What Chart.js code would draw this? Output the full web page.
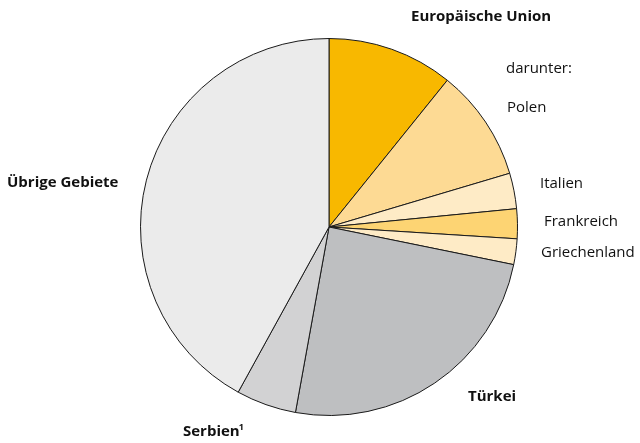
<!DOCTYPE html>
<html>
<head>
<meta charset="utf-8">
<script src="https://cdn.jsdelivr.net/npm/chart.js@4"></script>
<style>
html,body{margin:0;padding:0;background:#fff;}
#wrap{position:relative;width:640px;height:443px;}
</style>
</head>
<body>
<div id="wrap"><canvas id="c" width="640" height="443"></canvas></div>
<script>
const categories = ["Europäische Union", "Polen", "Italien", "Frankreich", "Griechenland", "Türkei", "Serbien¹", "Übrige Gebiete"];
const shares = [10.8, 9.6, 3.05, 2.55, 2.2, 24.65, 5.15, 42.0];
const sliceColors = ["#F8B800", "#FDDA94", "#FEEBC6", "#FDD473", "#FEEBC6", "#BEBFC1", "#D2D2D3", "#EBEBEB"];
const labelTexts = [
  {text: "Europäische Union", bold: true, x: 411, y: 17},
  {text: "darunter:", bold: false, x: 506, y: 69},
  {text: "Polen", bold: false, x: 507, y: 108},
  {text: "Italien", bold: false, x: 540, y: 184},
  {text: "Frankreich", bold: false, x: 544, y: 222},
  {text: "Griechenland", bold: false, x: 541, y: 253},
  {text: "Türkei", bold: true, x: 468, y: 397},
  {text: "Serbien", bold: true, x: 183, y: 432, sup: "1"},
  {text: "Übrige Gebiete", bold: true, x: 7, y: 183}
];

const FONT = '"Open Sans", "Noto Sans", sans-serif';
const labelPlugin = {
  id: 'labels',
  afterDraw(chart) {
    const ctx = chart.ctx;
    ctx.save();
    ctx.fillStyle = '#111';
    ctx.textBaseline = 'middle';
    ctx.textAlign = 'left';
    labelTexts.forEach(l => {
      ctx.font = (l.bold ? 'bold ' : '') + '15px ' + FONT;
      ctx.fillText(l.text, l.x, l.y);
      if (l.sup) {
        const w = ctx.measureText(l.text).width;
        ctx.font = (l.bold ? 'bold ' : '') + '9px ' + FONT;
        ctx.fillText(l.sup, l.x + w - 1, l.y - 5);
      }
    });
    ctx.restore();
  }
};

new Chart(document.getElementById('c'), {
  type: 'pie',
  data: {
    labels: categories,
    datasets: [{
      data: shares,
      backgroundColor: sliceColors,
      borderColor: '#1a1a1a',
      borderWidth: 1
    }]
  },
  options: {
    responsive: false,
    animation: false,
    radius: 188.5,
    layout: {padding: {left: 18, right: 0, top: 11, bottom: 0}},
    plugins: {legend: {display: false}, tooltip: {enabled: false}}
  },
  plugins: [labelPlugin]
});
</script>
</body>
</html>
